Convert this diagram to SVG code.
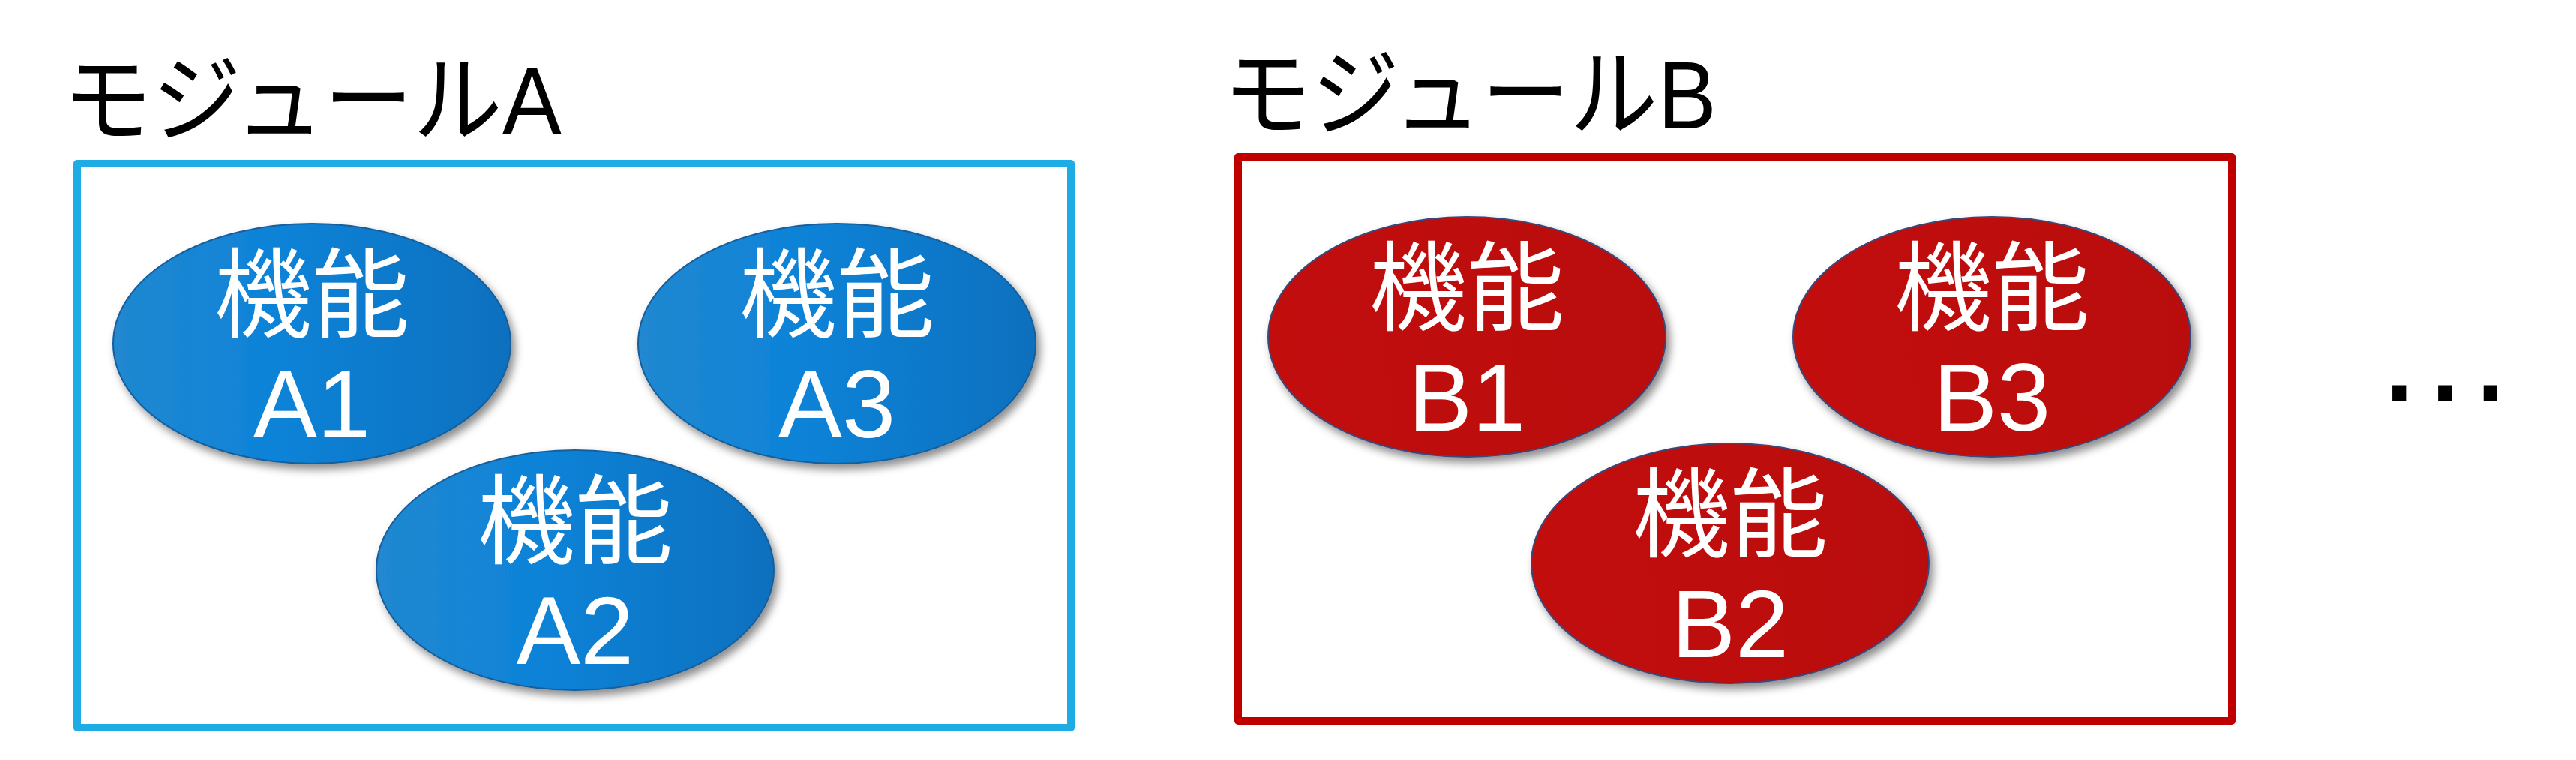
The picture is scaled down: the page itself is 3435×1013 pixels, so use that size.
<svg xmlns="http://www.w3.org/2000/svg" width="3435" height="1013" viewBox="0 0 3435 1013">
<defs>
<linearGradient id="gBlue" x1="0" y1="0" x2="1" y2="0">
<stop offset="0" stop-color="#2188D0"/>
<stop offset="0.4" stop-color="#0E83D8"/>
<stop offset="1" stop-color="#0A70BE"/>
</linearGradient>
<linearGradient id="gRed" x1="0" y1="0" x2="1" y2="0">
<stop offset="0" stop-color="#C20D0D"/>
<stop offset="1" stop-color="#B90707"/>
</linearGradient>
<filter id="shadow" x="-10%" y="-10%" width="125%" height="130%">
<feDropShadow dx="5" dy="7" stdDeviation="6" flood-color="#000" flood-opacity="0.45"/>
</filter>
</defs>
<style>
.title{font-family:"Liberation Sans","Noto Sans CJK JP",sans-serif;font-size:128px;fill:#000}
.boxA{fill:none;stroke:#1DACE3;stroke-width:10;stroke-linejoin:round}
.boxB{fill:none;stroke:#C00000;stroke-width:10;stroke-linejoin:round}
.ellA{fill:url(#gBlue);stroke:#175E9A;stroke-width:2;filter:url(#shadow)}
.ellB{fill:url(#gRed);stroke:#3A4A7A;stroke-width:2;filter:url(#shadow)}
.kino{font-family:"Noto Sans CJK JP",sans-serif;font-size:130px;fill:#fff;text-anchor:middle}
.lbl{font-family:"Liberation Sans",sans-serif;font-size:128px;fill:#fff;text-anchor:middle}
.dots{font-family:"Liberation Sans",sans-serif;font-size:192px;fill:#000}
</style>
<g id="connectors"></g>
<g id="moduleA">
<text class="title" x="84" y="179" textLength="665" lengthAdjust="spacingAndGlyphs">モジュールA</text>
<rect class="boxA" x="103" y="218" width="1325" height="752"/>
</g>
<g id="funcA1">
<ellipse class="ellA" cx="416" cy="458" rx="265" ry="160"/>
<text class="kino" x="416" y="439">機能</text>
<text class="lbl" x="416" y="583">A1</text>
</g>
<g id="funcA3">
<ellipse class="ellA" cx="1116" cy="458" rx="265" ry="160"/>
<text class="kino" x="1116" y="439">機能</text>
<text class="lbl" x="1116" y="583">A3</text>
</g>
<g id="funcA2">
<ellipse class="ellA" cx="767" cy="760" rx="265" ry="160"/>
<text class="kino" x="767" y="741">機能</text>
<text class="lbl" x="767" y="885">A2</text>
</g>
<g id="moduleB">
<text class="title" x="1631" y="171" textLength="658" lengthAdjust="spacingAndGlyphs">モジュールB</text>
<rect class="boxB" x="1651" y="209" width="1325" height="752"/>
</g>
<g id="funcB1">
<ellipse class="ellB" cx="1956" cy="449" rx="265" ry="160"/>
<text class="kino" x="1956" y="430">機能</text>
<text class="lbl" x="1956" y="574">B1</text>
</g>
<g id="funcB3">
<ellipse class="ellB" cx="2656" cy="449" rx="265" ry="160"/>
<text class="kino" x="2656" y="430">機能</text>
<text class="lbl" x="2656" y="574">B3</text>
</g>
<g id="funcB2">
<ellipse class="ellB" cx="2307" cy="751" rx="265" ry="160"/>
<text class="kino" x="2307" y="732">機能</text>
<text class="lbl" x="2307" y="876">B2</text>
</g>
<g id="ellipsis">
<text class="dots" x="3164" y="534">…</text>
</g>
</svg>
